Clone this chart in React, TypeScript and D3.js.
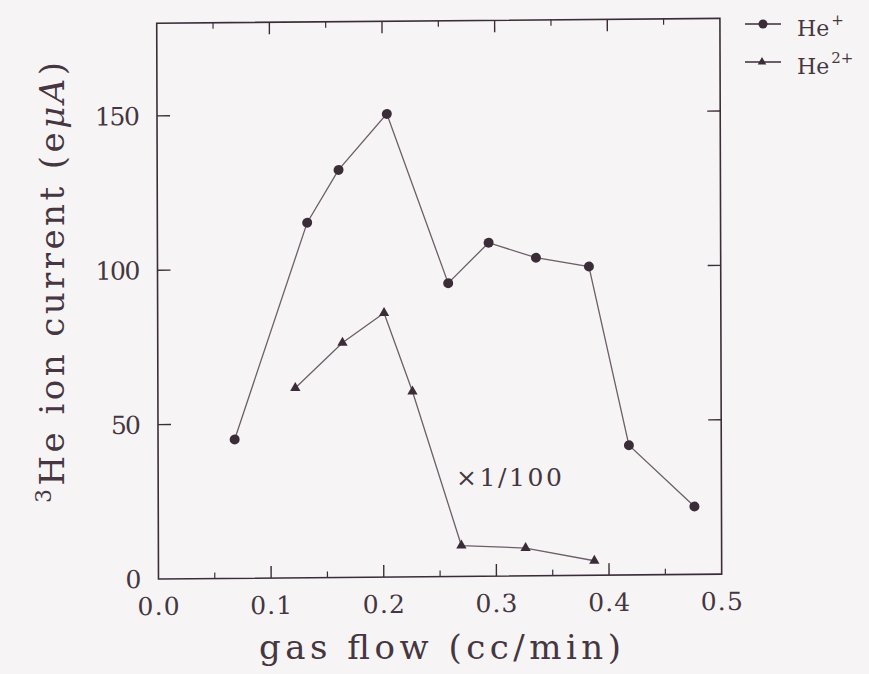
import React from "react";
import * as d3 from "d3";

// Gas flow (cc/min) and 3He ion current (eμA)
const flowHe1 = [0.068, 0.133, 0.161, 0.204, 0.258, 0.294, 0.336, 0.383, 0.418, 0.476];
const currentHe1 = [45, 115, 132, 150, 95, 108, 103, 100, 42, 22];

// He2+ current, plotted ×1/100
const flowHe2 = [0.122, 0.164, 0.201, 0.226, 0.269, 0.326, 0.387];
const currentHe2 = [61.5, 76, 85.5, 60, 10, 9, 4.7];

const xMajorTicks = [0.0, 0.1, 0.2, 0.3, 0.4, 0.5];
const xMinorTicks = [0.05, 0.15, 0.25, 0.35, 0.45];
const yTicks = [0, 50, 100, 150];

const W = 869;
const H = 674;
const L = 157.6;
const R = 720.8;
const T = 20.8;
const B = 576.6;
const CX = 439.2;
const CY = 298.7;

const INK = "#3b2d38";
const TEXT = "#45363f";
const LINE = "#6d5e69";
const BG = "#f7f4f6";
const FONT = "'DejaVu Serif', serif";

export default function App() {
  const x = d3.scaleLinear().domain([0, 0.5]).range([L, R]);
  const y = d3.scaleLinear().domain([0, 180]).range([B, T]);

  const he1 = flowHe1.map((f, i) => ({ f, c: currentHe1[i] }));
  const he2 = flowHe2.map((f, i) => ({ f, c: currentHe2[i] }));

  const line = d3
    .line<{ f: number; c: number }>()
    .x((d) => x(d.f))
    .y((d) => y(d.c));

  const tri = d3.symbol().type(d3.symbolTriangle).size(46)() as string;
  const triLegend = d3.symbol().type(d3.symbolTriangle).size(32)() as string;
  const fmt = d3.format(".1f");

  const skew = `translate(${CX},${CY}) matrix(1,-0.0087,0.0032,1,0,0) translate(${-CX},${-CY})`;

  return (
    <svg
      width={W}
      height={H}
      viewBox={`0 0 ${W} ${H}`}
      style={{ position: "absolute", left: 0, top: 0, display: "block" }}
      fontFamily={FONT}
    >
      <rect x={0} y={0} width={W} height={H} fill={BG} />

      <g transform={skew}>
        {/* frame */}
        <rect x={L} y={T} width={R - L} height={B - T} fill="none" stroke={INK} strokeWidth={1.6} />

        {/* x ticks, bottom and top */}
        {xMajorTicks.slice(1, -1).map((v) => (
          <g key={`xM${v}`} stroke={INK} strokeWidth={1.4}>
            <line x1={x(v)} x2={x(v)} y1={B} y2={B - 12} />
            <line x1={x(v)} x2={x(v)} y1={T} y2={T + 12} />
          </g>
        ))}
        {xMinorTicks.map((v) => (
          <g key={`xm${v}`} stroke={INK} strokeWidth={1.2}>
            <line x1={x(v)} x2={x(v)} y1={B} y2={B - 6} />
            <line x1={x(v)} x2={x(v)} y1={T} y2={T + 6} />
          </g>
        ))}

        {/* y ticks, left and right */}
        {yTicks.slice(1).map((v) => (
          <g key={`y${v}`} stroke={INK} strokeWidth={1.4}>
            <line x1={L} x2={L + 13} y1={y(v)} y2={y(v)} />
            <line x1={R} x2={R - 13} y1={y(v)} y2={y(v)} />
          </g>
        ))}

        {/* tick labels */}
        {xMajorTicks.map((v) => (
          <text
            key={`xl${v}`}
            x={x(v)}
            y={B + 36}
            textAnchor="middle"
            fontSize={25}
            fill={TEXT}
            textLength={42}
            lengthAdjust="spacing"
          >
            {fmt(v)}
          </text>
        ))}
        {yTicks.map((v) => (
          <text
            key={`yl${v}`}
            x={L - 17}
            y={y(v) + 9}
            textAnchor="end"
            fontSize={25}
            fill={TEXT}
            textLength={String(v).length * 15}
            lengthAdjust="spacing"
          >
            {v}
          </text>
        ))}

        {/* He+ series */}
        <path d={line(he1) ?? ""} fill="none" stroke={LINE} strokeWidth={1.3} />
        {he1.map((d, i) => (
          <circle key={`c${i}`} cx={x(d.f)} cy={y(d.c)} r={5} fill={INK} />
        ))}

        {/* He2+ series */}
        <path d={line(he2) ?? ""} fill="none" stroke={LINE} strokeWidth={1.3} />
        {he2.map((d, i) => (
          <path key={`t${i}`} d={tri} transform={`translate(${x(d.f)},${y(d.c)})`} fill={INK} />
        ))}
      </g>

      {/* scale note */}
      <text x={456} y={486} fontSize={25} fill={TEXT} textLength={106} lengthAdjust="spacing">
        ×1/100
      </text>

      {/* axis titles */}
      <text x={259} y={659} fontSize={34} fill={TEXT} textLength={362} lengthAdjust="spacing">
        gas flow (cc/min)
      </text>
      <text
        transform="translate(64,503) rotate(-90)"
        fontSize={34}
        fill={TEXT}
        textLength={441}
        lengthAdjust="spacing"
      >
        <tspan fontSize={22} dy={-13}>3</tspan>
        <tspan dy={13}>He ion current (e</tspan>
        <tspan fontStyle="italic">μ</tspan>
        <tspan fontStyle="italic">A</tspan>
        <tspan>)</tspan>
      </text>

      {/* legend */}
      <g>
        <line x1={745} x2={781} y1={24} y2={24} stroke={INK} strokeWidth={1.3} />
        <circle cx={763} cy={24} r={4.5} fill={INK} />
        <text x={797} y={36} fontSize={22} fill={TEXT}>
          He<tspan fontSize={15} dy={-11} dx={2}>+</tspan>
        </text>
        <line x1={745} x2={781} y1={62} y2={62} stroke={INK} strokeWidth={1.3} />
        <path d={triLegend} transform="translate(762,62)" fill={INK} />
        <text x={797} y={74} fontSize={22} fill={TEXT}>
          He<tspan fontSize={15} dy={-11} dx={2}>2+</tspan>
        </text>
      </g>
    </svg>
  );
}
